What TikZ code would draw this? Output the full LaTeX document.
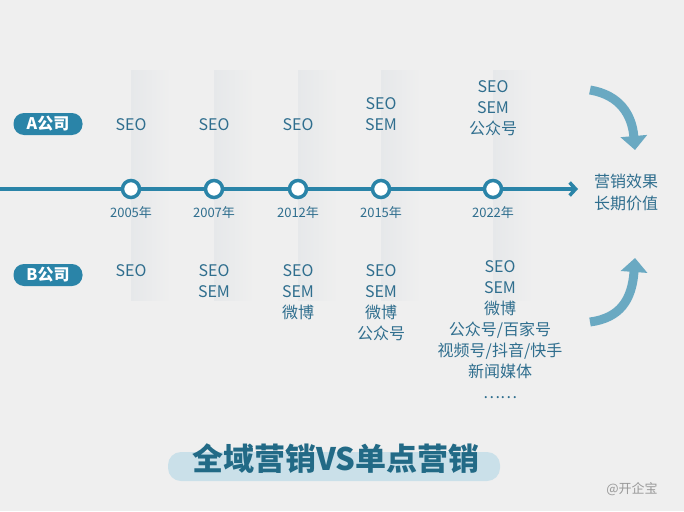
\documentclass[tikz,border=0pt]{standalone}
\usepackage{fontspec}
\setmainfont{Noto Sans CJK SC}
\usetikzlibrary{arrows.meta}
\definecolor{tx}{HTML}{2F6E8E}
\definecolor{ln}{HTML}{2A84A8}
\definecolor{bg}{HTML}{EFEFEF}
\definecolor{cl}{HTML}{E6E8EA}
\tikzset{
 lbl/.style={text=tx,font=\fontsize{16}{21}\selectfont,align=center,inner sep=0pt},
 yr/.style={text=tx,font=\fontsize{13}{15}\selectfont,inner sep=0pt},
 dot/.style={circle,draw=ln,line width=3.5pt,fill=white,minimum size=17pt,inner sep=0pt},
 pill/.style={rounded corners=10.5pt,fill=ln,text=white,font=\bfseries\fontsize{16}{18}\selectfont,minimum width=69pt,minimum height=22pt,inner sep=0pt},
 col/.style={left color=cl,right color=bg}
}
\begin{document}
\begin{tikzpicture}[x=1pt,y=-1pt]
\fill[bg] (0,0) rectangle (684,511);
\useasboundingbox (0,0) rectangle (684,511);
\foreach \x in {131,214,298,381,493}{\shade[col] (\x,70) rectangle (\x+40,300);}
\node[pill] (pa) at (48,124) {A公司};
\node[pill] (pb) at (48,275) {B公司};
\coordinate (ls) at (0,189);
\coordinate (le) at (578,189);
\draw[ln,line width=3.5pt,-{Straight Barb[length=6pt,width=13pt]}] (ls) -- (le);
\foreach \x/\y/\n in {131/2005/a,214/2007/b,298/2012/c,381/2015/d,493/2022/e}{
 \node[dot] (d\n) at (\x,189) {};
 \node[yr] (y\n) at (\x,213) {\y 年};
}
\node[lbl] (aa) at (131,125) {SEO};
\node[lbl] (ab) at (214,125) {SEO};
\node[lbl] (ac) at (298,125) {SEO};
\node[lbl] (ad) at (381,114) {SEO\\SEM};
\node[lbl] (ae) at (493,108) {SEO\\SEM\\公众号};
\node[lbl,anchor=north] (ba) at (131,264) {SEO};
\node[lbl,anchor=north] (bb) at (214,264) {SEO\\SEM};
\node[lbl,anchor=north] (bc) at (298,264) {SEO\\SEM\\微博};
\node[lbl,anchor=north] (bd) at (381,264) {SEO\\SEM\\微博\\公众号};
\node[lbl,anchor=north] (be) at (500,260) {SEO\\SEM\\微博\\公众号/百家号\\视频号/抖音/快手\\新闻媒体\\……};
\node[lbl,font=\fontsize{16}{22}\selectfont] (res) at (626,192) {营销效果\\长期价值};
\draw[ln!70,line width=9pt,-{Triangle[length=14pt,width=26pt]}] (590,90) .. controls (620,95) and (632,115) .. (635,150);
\draw[ln!70,line width=9pt,-{Triangle[length=14pt,width=26pt]}] (590,322) .. controls (620,318) and (632,300) .. (635,258);
\fill[ln!25,rounded corners=13pt] (168,452) rectangle (500,481);
\node[text=ln!80!black,font=\bfseries\fontsize{31}{34}\selectfont,inner sep=0pt] (title) at (336,459) {全域营销VS单点营销};
\node[text=black!40,font=\fontsize{13}{15}\selectfont,inner sep=0pt] (wm) at (632,489) {@开企宝};
\end{tikzpicture}
\end{document}
